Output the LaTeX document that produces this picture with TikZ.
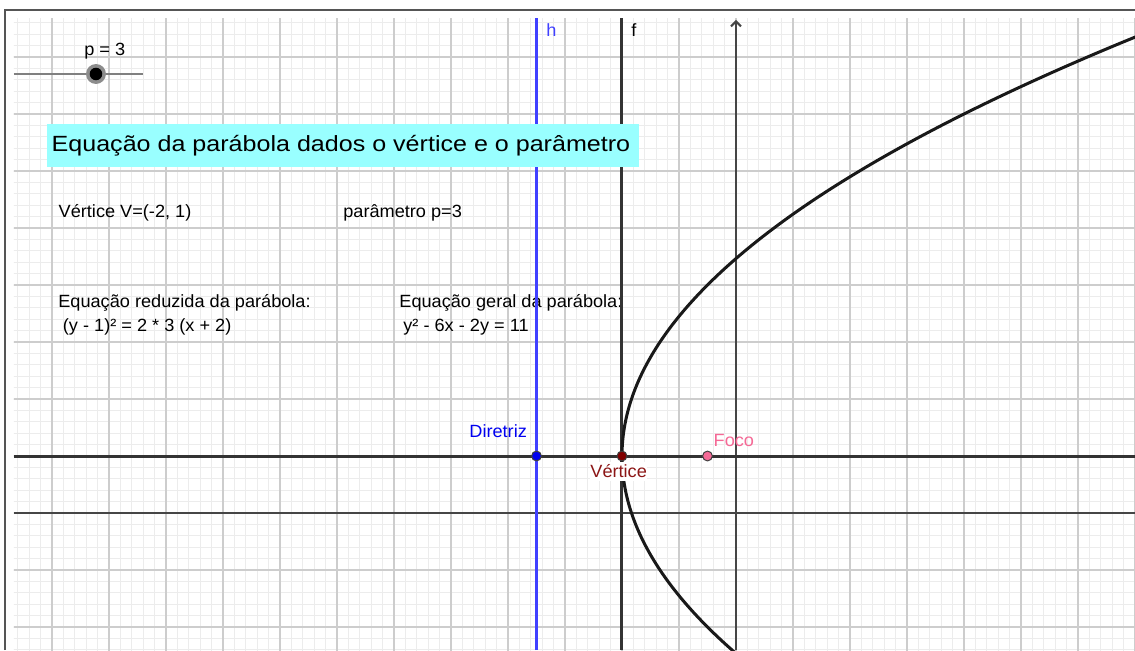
\documentclass[tikz,border=0pt]{standalone}
\usepackage{fontspec}
\setmainfont[FakeStretch=1.025]{Liberation Sans}
\newfontfamily\titlefont[FakeStretch=1.14]{Liberation Sans}
\usetikzlibrary{arrows.meta,positioning}
\definecolor{ggbBlue}{RGB}{64,64,255}
\definecolor{ggbDot}{RGB}{0,0,240}
\definecolor{ggbRed}{RGB}{128,0,0}
\definecolor{ggbLabelRed}{RGB}{140,22,22}
\definecolor{ggbPink}{RGB}{245,105,150}
\definecolor{ggbCyan}{RGB}{153,255,255}
\definecolor{ggbMajor}{RGB}{205,205,205}
\definecolor{ggbMinor}{RGB}{236,236,236}
\definecolor{ggbAxis}{RGB}{70,70,70}
\definecolor{ggbFrame}{RGB}{85,85,85}
\newcommand{\ggbtext}{\fontsize{8.84}{10.5}\selectfont}

\begin{document}
\begin{tikzpicture}[
  ggbpoint/.style={circle,draw=black!75,line width=0.5pt,inner sep=0pt,minimum size=4.9pt},
  ggblabel/.style={anchor=base west,inner sep=0pt,font=\ggbtext},
  ggbline/.style={line width=1.5pt}
]
  \useasboundingbox (-12.912,-2.4035) rectangle (7,9);
  \fill[white] (-12.912,-2.4035) rectangle (7,9);
  \draw[ggbFrame,line width=1pt] (-12.825,-2.4035) -- (-12.825,8.833) -- (7,8.833);
  \begin{scope}
    \clip (-12.667,-2.4035) rectangle (7,8.684);
    \foreach \i in {-63,...,35}{\draw[ggbMinor,line width=0.5pt] (\i/5,-2.5) -- (\i/5,8.7);}
    \foreach \j in {-12,...,43}{\draw[ggbMinor,line width=0.5pt] (-12.7,\j/5) -- (7,\j/5);}
    \foreach \i in {-12,...,7}{\draw[ggbMajor,line width=0.8pt] (\i,-2.5) -- (\i,8.7);}
    \foreach \j in {-2,...,8}{\draw[ggbMajor,line width=0.8pt] (-12.7,\j) -- (7,\j);}
    \node[ggblabel] (txtV) at (-11.889,5.181) {Vértice V=(-2, 1)};
    \node[ggblabel] (txtp) at (-6.895,5.181) {parâmetro p=3};
    \node[ggblabel] (txtRed) at (-11.895,3.602) {Equação reduzida da parábola:};
    \node[ggblabel] (txtRedEq) at (-11.815,3.181) {(y - 1)² = 2 * 3 (x + 2)};
    \node[ggblabel] (txtGer) at (-5.912,3.602) {Equação geral da parábola:};
    \node[ggblabel] (txtGerEq) at (-5.842,3.181) {y² - 6x - 2y = 11};
    \draw[ggbAxis,line width=1pt] (-12.667,0) -- (7,0);
    \draw[ggbAxis,line width=1pt,-{Straight Barb[length=2.5pt,width=5pt]}] (0,-2.4035) -- (0,8.65);
    \draw[ggbline,black!80] (-2,-2.4035) -- (-2,8.684);
    \draw[ggbline,black!80] (-12.667,1) -- (7,1);
    \draw[ggbline,ggbBlue] (-3.5,-2.4035) -- (-3.5,8.684);
    \draw[ggbline,black!90,domain=-2.45:8.7,samples=160,variable=\t] plot ({-2+(\t-1)^2/6},\t);
  \end{scope}
  \fill[ggbCyan] (-12.093,6.065) rectangle (-1.707,6.825);
  \node[anchor=base west,inner sep=0pt,font=\titlefont\fontsize{10.98}{13}\selectfont] (title) at (-12.012,6.339) {Equação da parábola dados o vértice e o parâmetro};
  \draw[gray,line width=0.6pt] (-12.667,7.702) -- (-10.409,7.702);
  \fill[gray!90] (-11.228,7.702) circle (0.175);
  \fill[black] (-11.228,7.702) circle (0.11);
  \node[ggblabel] (lblp) at (-11.439,8.018) {p = 3};
  \node[ggblabel,fill=white,text=ggbLabelRed,inner ysep=1.5pt] (lblV) at (-2.561,0.619) {Vértice};
  \node[ggblabel,text=ggbDot] (lblD) at (-4.684,1.328) {Diretriz};
  \node[ggblabel,text=ggbPink] (lblF) at (-0.398,1.163) {Foco};
  \node[ggblabel,text=ggbBlue] (lblh) at (-3.333,8.356) {h};
  \node[ggblabel] (lblf) at (-1.842,8.356) {f};
  \node[ggbpoint,fill=ggbDot] (D) at (-3.5,1) {};
  \node[ggbpoint,fill=ggbRed] (V) at (-2,1) {};
  \node[ggbpoint,fill=ggbPink] (F) at (-0.5,1) {};
\end{tikzpicture}
\end{document}
